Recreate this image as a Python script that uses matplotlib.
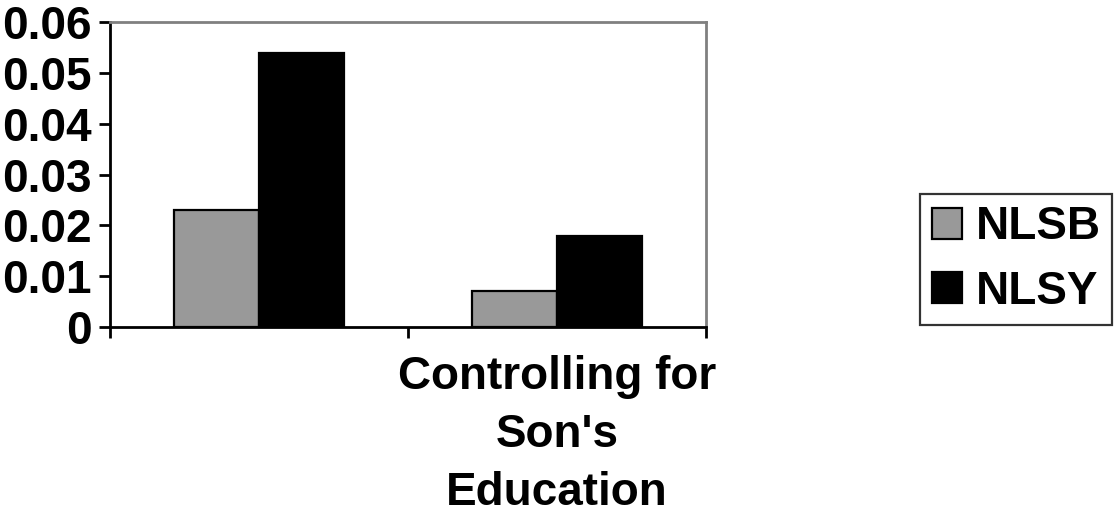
import matplotlib
matplotlib.use("Agg")
import matplotlib.pyplot as plt
import numpy as np

plt.rcParams['font.family'] = ['Liberation Sans', 'DejaVu Sans']
plt.rcParams['font.weight'] = 'bold'

categories = ["", "Controlling for\nSon's\nEducation"]
series_names = ["NLSB", "NLSY"]
nlsb = [0.023, 0.007]
nlsy = [0.054, 0.018]
yticks = [0, 0.01, 0.02, 0.03, 0.04, 0.05, 0.06]
ytick_labels = ["0", "0.01", "0.02", "0.03", "0.04", "0.05", "0.06"]

W, H = 1116, 514
FS = 33
fig = plt.figure(figsize=(W / 100, H / 100), dpi=100)
ax = fig.add_axes([110 / W, (H - 327) / H, (706 - 110) / W, (327 - 22) / H])

x = np.arange(len(categories))
bw = 0.285
ax.bar(x - bw / 2, nlsb, bw, color="#999999", edgecolor="black", linewidth=1.6, label=series_names[0], zorder=3)
ax.bar(x + bw / 2, nlsy, bw, color="black", edgecolor="black", linewidth=1.6, label=series_names[1], zorder=3)

ax.set_xlim(-0.5, len(categories) - 0.5)
ax.set_ylim(0, 0.06)
ax.set_yticks(yticks)
ax.set_yticklabels(ytick_labels, fontsize=FS, fontweight='bold')

ax.set_xticks(np.arange(len(categories) + 1) - 0.5)
ax.set_xticklabels([])
ax.set_xticks(x, minor=True)
ax.set_xticklabels(categories, minor=True, fontsize=FS, fontweight='bold', linespacing=1.42)
ax.tick_params(axis='x', which='minor', length=0, pad=20)
ax.tick_params(axis='x', which='major', length=8, width=2, direction='out', color='black')
ax.tick_params(axis='y', length=8, width=2, direction='out', pad=5, color='black')

for s in ['left', 'bottom']:
    ax.spines[s].set_color('black')
    ax.spines[s].set_linewidth(2)
for s in ['top', 'right']:
    ax.spines[s].set_color('#808080')
    ax.spines[s].set_linewidth(2)

leg = fig.legend(loc='center', bbox_to_anchor=((919 + 1113) / 2 / W, 1 - (192 + 327) / 2 / H),
                 fontsize=FS, frameon=True, fancybox=False, shadow=False,
                 handlelength=0.66, handleheight=0.66, handletextpad=0.3,
                 borderpad=0.25, labelspacing=0.45, borderaxespad=0)
leg.get_frame().set_edgecolor('black')
leg.get_frame().set_linewidth(1.6)
for t in leg.get_texts():
    t.set_fontweight('bold')

fig.savefig("out.png", dpi=100)
